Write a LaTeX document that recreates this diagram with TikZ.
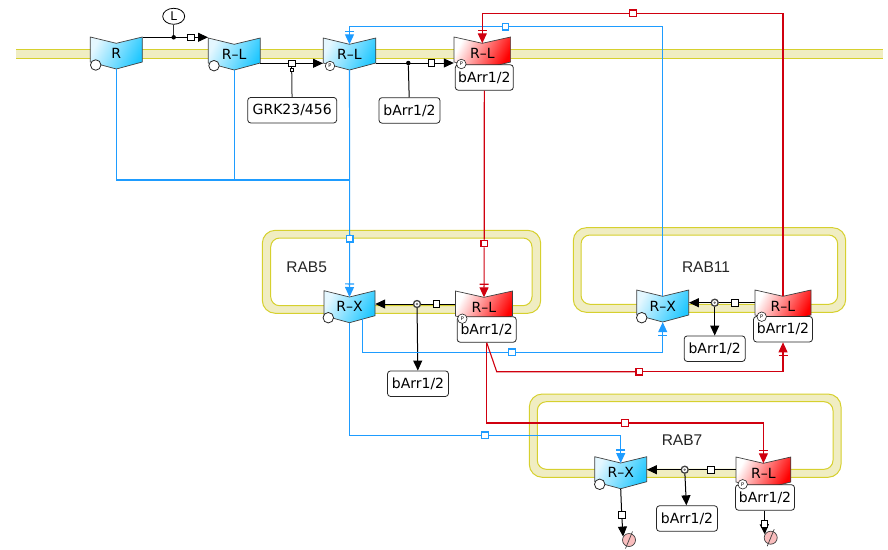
\documentclass[tikz,border=0pt]{standalone}
\usepackage{fontspec}
\setmainfont{DejaVu Sans}
\newfontfamily\rabfont{Liberation Sans}
\usetikzlibrary{arrows.meta,calc,shapes.geometric}
\definecolor{memfill}{HTML}{F0EDC2}
\definecolor{memline}{HTML}{D6D02E}
\definecolor{bluln}{HTML}{1E9CFF}
\definecolor{redln}{HTML}{D0000F}
\definecolor{cyanend}{HTML}{22C8FF}
\definecolor{cyanstart}{HTML}{E4F7FF}
\definecolor{sinkfill}{HTML}{F9BDBD}
\tikzset{
  lab/.style={inner sep=0pt,font=\fontsize{14}{14}\selectfont},
  boxn/.style={draw=black!85,line width=0.8pt,fill=white,rounded corners=3pt,inner sep=0pt,minimum height=25.5pt,font=\fontsize{14}{14}\selectfont},
  mem/.style={draw=memline,line width=1pt,fill=memfill},
  rabn/.style={inner sep=0pt,font=\rabfont\fontsize{15.5}{15.5}\selectfont,text=black!85},
  blk/.style={draw=black,line width=1pt},
  bln/.style={draw=bluln,line width=1.1pt},
  rdn/.style={draw=redln,line width=1.1pt},
  atip/.style={-{Triangle[length=10pt,width=9pt]}},
  ttip/.style={-{Bar[width=9pt,length=1pt,sep=2.5pt]Triangle[length=10pt,width=9pt]}},
  sqk/.style={draw=black,line width=0.9pt,fill=white,inner sep=0pt,minimum size=6.5pt},
  sqb/.style={draw=bluln,line width=1.2pt,fill=white,inner sep=0pt,minimum size=6.5pt},
  sqr/.style={draw=redln,line width=1.2pt,fill=white,inner sep=0pt,minimum size=6.5pt},
  dotn/.style={circle,fill=black,inner sep=0pt,minimum size=4.5pt},
  ringn/.style={circle,draw=black!75,line width=1.3pt,fill=white,inner sep=0pt,minimum size=7pt},
  ringc/.style={circle,fill=black!55,inner sep=0pt,minimum size=2.6pt},
  stateo/.style={circle,draw=black!85,line width=0.8pt,fill=white,inner sep=0pt,minimum size=10.5pt},
  statep/.style={circle,draw=black!85,line width=0.6pt,fill=white,inner sep=0pt,minimum size=9.5pt,font=\fontsize{5}{5}\selectfont},
  sinkn/.style={circle,draw=black!75,line width=0.7pt,fill=sinkfill,inner sep=0pt,minimum size=13pt},
  ligand/.style={ellipse,draw=black,line width=0.8pt,fill=white,inner sep=0pt,minimum width=22pt,minimum height=16pt,font=\fontsize{12}{12}\selectfont},
}
% name, cx, top y, half width, colour end, start colour, label
\newcommand{\recep}[7]{%
  \shade[left color=#6,right color=#5,shading angle=62,draw=black!75,line width=0.7pt]
    (#2-#4,#3) -- (#2,#3+6.3) -- (#2+#4,#3) -- (#2+#4,#3+25) -- (#2,#3+32) -- (#2-#4,#3+25) -- cycle;
  \node[lab,minimum width=2*#4 pt,minimum height=32pt,inner sep=0pt] (#1) at (#2,#3+16) {};
  \node[lab] (#1-t) at (#2,#3+16) {#7};
  \coordinate (#1-n) at (#2,#3+6.3);
}
\begin{document}
\begin{tikzpicture}[x=1pt,y=-1pt]
\useasboundingbox (0,0) rectangle (888,549);
% membranes
\fill[memfill] (16,49) rectangle (883,58);
\draw[memline,line width=1pt] (16,49) -- (883,49) (16,58) -- (883,58);
\draw[mem,even odd rule,rounded corners=13pt] (262.3,230.3) rectangle (540.7,313.3)
  [rounded corners=9pt] (270.7,238) rectangle (532,305.7);
\draw[mem,even odd rule,rounded corners=13pt] (573.3,227.7) rectangle (845.7,312.3)
  [rounded corners=9pt] (581,235) rectangle (837.7,304.3);
\draw[mem,even odd rule,rounded corners=13pt] (529.3,394) rectangle (841,477.3)
  [rounded corners=9pt] (537.3,401.7) rectangle (833,469.3);
\node[rabn] (rab5) at (306.7,267) {RAB5};
\node[rabn] (rab11) at (706,267) {RAB11};
\node[rabn] (rab7) at (682,440) {RAB7};
% receptors
\recep{r}{116.3}{37}{26}{cyanend}{cyanstart}{R}
\recep{rla}{234.2}{38}{26}{cyanend}{cyanstart}{R–L}
\recep{rlb}{349.5}{38}{26.3}{cyanend}{cyanstart}{R–L}
\recep{rlc}{482.3}{37}{28.3}{red}{white}{R–L}
\recep{rxa}{349.5}{290.7}{25.5}{cyanend}{cyanstart}{R–X}
\recep{rld}{484}{291}{28.5}{red}{white}{R–L}
\recep{rxb}{662.7}{290}{26}{cyanend}{cyanstart}{R–X}
\recep{rle}{783}{290}{28}{red}{white}{R–L}
\recep{rxc}{620.7}{456.7}{26}{cyanend}{cyanstart}{R–X}
\recep{rlf}{763.4}{457}{27.4}{red}{white}{R–L}
% ligand and species boxes
\node[ligand] (lig) at (173.7,16.3) {L};
\node[boxn,minimum width=89pt] (grk) at (292.2,110.2) {GRK23/456};
\node[boxn,minimum width=61pt] (ba) at (409.5,110.4) {bArr1/2};
\node[boxn,minimum width=58pt] (bb) at (484.3,77.5) {bArr1/2};
\node[boxn,minimum width=59pt] (bc) at (486.7,329.5) {bArr1/2};
\node[boxn,minimum width=61pt] (bd) at (418,383.7) {bArr1/2};
\node[boxn,minimum width=59pt] (be) at (783,329.2) {bArr1/2};
\node[boxn,minimum width=61pt] (bf) at (714.7,348.7) {bArr1/2};
\node[boxn,minimum width=59pt] (bg) at (765,497.5) {bArr1/2};
\node[boxn,minimum width=61pt] (bh) at (687,518.5) {bArr1/2};
% sinks and their arrows (square sits on the arrow)
\node[sinkn] (z1) at (629,540) {};
\node[sinkn] (z2) at (770.7,537.7) {};
\coordinate (s8a) at (621.7,514.7);
\coordinate (s9a) at (764.3,523.7);
\draw[blk,atip] (s8a) -- (z1.150);
\draw[blk,atip] (s9a) -- (z2.150);
\draw[black!75,line width=0.7pt] ($(z1)+(-3.5,8.5)$) -- ($(z1)+(3.5,-8.5)$);
\draw[black!75,line width=0.7pt] ($(z2)+(-3.5,8.5)$) -- ($(z2)+(3.5,-8.5)$);
% squares and junctions
\node[sqk] (s1) at (191,37.3) {};
\node[dotn] (d1) at (173.7,37.3) {};
\node[sqk] (s2) at (291.7,63.3) {};
\node[sqk,minimum size=3.5pt] (s2b) at (291.7,70) {};
\node[dotn] (d2) at (408.3,63) {};
\node[sqk] (s3) at (431.3,63) {};
\node[ringn] (j5) at (417,304) {};
\node[ringc] (j5c) at (417,304) {};
\node[sqk] (s5) at (436.3,304) {};
\node[ringn] (j11) at (714.7,302.7) {};
\node[ringc] (j11c) at (714.7,302.7) {};
\node[sqk] (s11) at (734.7,302.7) {};
\node[ringn] (j7) at (684.7,469.7) {};
\node[ringc] (j7c) at (684.7,469.7) {};
\node[sqk] (s7) at (710.7,469.7) {};
\node[sqk] (s8) at (s8a) {};
\node[sqk] (s9) at (s9a) {};
\node[sqb] (b1) at (505.5,26.7) {};
\node[sqb] (b2) at (349.7,238.7) {};
\node[sqb] (b3) at (512,352.3) {};
\node[sqb] (b4) at (485,435.3) {};
\node[sqr] (c1) at (633,13.3) {};
\node[sqr] (c2) at (484.2,243.5) {};
\node[sqr] (c3) at (639.3,371.7) {};
\node[sqr] (c4) at (625,423) {};
% black connectors
\draw[blk] (r.east |- s1) -- (s1);
\draw[blk,atip] (s1) -- (rla.west |- s1);
\draw[blk,draw=black!80] (lig) -- (d1);
\draw[blk] (rla.east |- s2) -- (s2);
\draw[blk,atip] (s2) -- (rlb.west |- s2);
\draw[blk,draw=black!80] (s2b) -- (grk);
\draw[blk] (s2) -- (s2b);
\draw[blk] (rlb.east |- d2) -- (s3);
\draw[blk,atip] (s3) -- (rlc.west |- s3);
\draw[blk] (d2) -- (ba);
\draw[blk] (rld.west |- j5) -- (s5) -- (j5);
\draw[blk,atip] (j5) -- (rxa.east |- j5);
\draw[blk,atip] (j5) -- (bd);
\draw[blk] (rle.west |- j11) -- (s11) -- (j11);
\draw[blk,atip] (j11) -- (rxb.east |- j11);
\draw[blk,atip] (j11) -- (bf);
\draw[blk] (rlf.west |- j7) -- (s7) -- (j7);
\draw[blk,atip] (j7) -- (rxc.east |- j7);
\draw[blk,atip] (j7) -- (bh);
\draw[blk] (rxc.south) -- (s8);
\draw[blk] (bg.south -| s9) -- (s9);
% blue connectors
\coordinate (m1) at (349.5,180);
\coordinate (q1) at (362.3,319);
\draw[bln] (r.south) |- (m1);
\draw[bln] (rla.south) -- (rla.south |- m1);
\draw[bln] (rlb.south) -- (b2);
\draw[bln,ttip] (b2) -- (rxa-n);
\draw[bln] (rxb-n) |- (b1);
\draw[bln,ttip] (b1) -| (rlb-n);
\draw[bln] (q1) |- (b3);
\draw[bln,ttip] (b3) -| (rxb.south);
\draw[bln] (rxa.south) |- (b4);
\draw[bln,ttip] (b4) -| (rxc-n);
% red connectors
\coordinate (k1) at (496.7,371.7);
\draw[rdn] (rle-n) |- (c1);
\draw[rdn,ttip] (c1) -| (rlc-n);
\draw[rdn] (bb.south) -- (c2);
\draw[rdn,ttip] (c2) -- (rld-n);
\draw[rdn] (bc.south) -- (k1) -- (c3);
\draw[rdn,ttip] (c3) -| (be.south);
\draw[rdn] (bc.south) |- (c4);
\draw[rdn,ttip] (c4) -| (rlf-n);
% state symbols
\node[stateo] (o1) at (95.7,65) {};
\node[stateo] (o2) at (214,65.7) {};
\node[stateo] (o3) at (328.3,317.7) {};
\node[stateo] (o4) at (641.7,317.7) {};
\node[stateo] (o5) at (599.7,484.3) {};
\node[statep] (p1) at (330,66) {P};
\node[statep] (p2) at (461.3,64) {P};
\node[statep] (p3) at (462.3,318.7) {P};
\node[statep] (p4) at (761.7,316.7) {P};
\node[statep] (p5) at (742.7,484.3) {P};
\end{tikzpicture}
\end{document}
